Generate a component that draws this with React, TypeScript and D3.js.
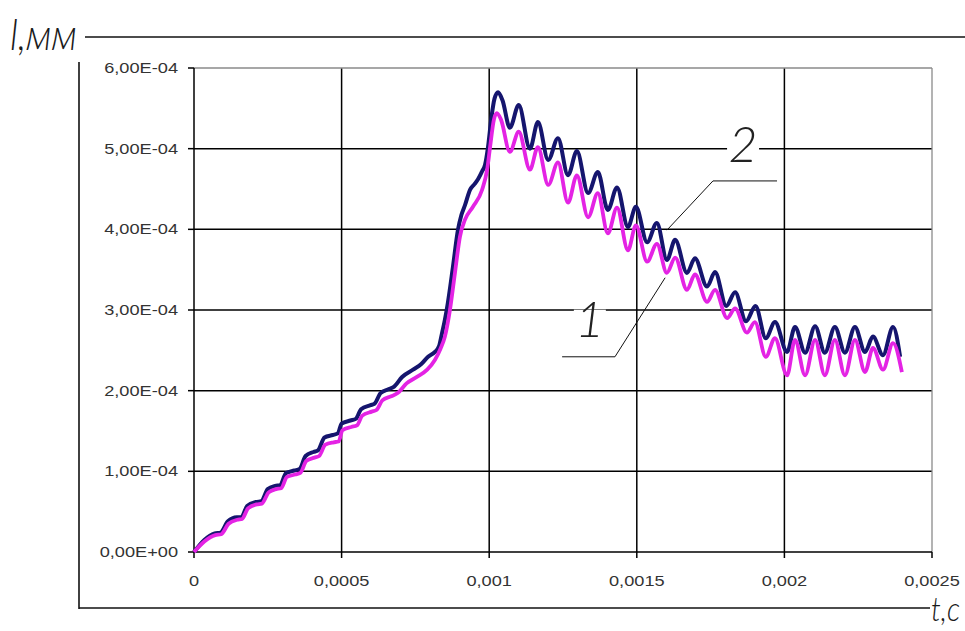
import React from 'react';
import * as d3 from 'd3';

// time in ms, length in 1e-4 mm
const curve2: [number, number][] = [
  [0, 0], [0.035, 0.15], [0.07, 0.23], [0.09, 0.24], [0.115, 0.38], [0.145, 0.43], [0.16, 0.43],
  [0.18, 0.57], [0.21, 0.62], [0.228, 0.63], [0.25, 0.78], [0.275, 0.82], [0.292, 0.83],
  [0.312, 0.98], [0.34, 1.01], [0.358, 1.03], [0.378, 1.19], [0.405, 1.24], [0.42, 1.26],
  [0.442, 1.42], [0.47, 1.45], [0.487, 1.47], [0.5, 1.59], [0.53, 1.63], [0.548, 1.65],
  [0.566, 1.77], [0.598, 1.82], [0.612, 1.84], [0.632, 1.97], [0.66, 2.02], [0.678, 2.05],
  [0.705, 2.17], [0.742, 2.26], [0.77, 2.33], [0.793, 2.42], [0.816, 2.48], [0.83, 2.55],
  [0.84, 2.71], [0.85, 2.88], [0.86, 3.09], [0.877, 3.53], [0.894, 3.99], [0.906, 4.18],
  [0.918, 4.3], [0.935, 4.49], [0.95, 4.56], [0.962, 4.62], [0.976, 4.72], [0.986, 4.8],
  [0.996, 5.02], [1.008, 5.4], [1.018, 5.62], [1.03, 5.7], [1.045, 5.6], [1.07, 5.26],
  [1.1, 5.54], [1.138, 5.0], [1.165, 5.33], [1.2, 4.86], [1.233, 5.13], [1.267, 4.67],
  [1.297, 4.97], [1.335, 4.45], [1.368, 4.71], [1.402, 4.24], [1.433, 4.52], [1.47, 4.03],
  [1.497, 4.28], [1.535, 3.84], [1.568, 4.08], [1.602, 3.62], [1.63, 3.87], [1.67, 3.46],
  [1.697, 3.64], [1.738, 3.29], [1.765, 3.47], [1.803, 3.05], [1.833, 3.22], [1.87, 2.86],
  [1.902, 3.05], [1.937, 2.65], [1.968, 2.85], [2.009, 2.48], [2.036, 2.79], [2.07, 2.47],
  [2.104, 2.8], [2.137, 2.47], [2.171, 2.79], [2.205, 2.47], [2.239, 2.79], [2.273, 2.48],
  [2.3, 2.67], [2.334, 2.44], [2.368, 2.79], [2.392, 2.42],
];

const curve1: [number, number][] = [
  [0, 0], [0.035, 0.13], [0.072, 0.21], [0.092, 0.22], [0.117, 0.35], [0.147, 0.4], [0.163, 0.41],
  [0.183, 0.54], [0.212, 0.59], [0.23, 0.6], [0.253, 0.74], [0.278, 0.78], [0.295, 0.79],
  [0.315, 0.93], [0.343, 0.96], [0.36, 0.98], [0.381, 1.13], [0.408, 1.17], [0.424, 1.19],
  [0.445, 1.33], [0.473, 1.36], [0.49, 1.37], [0.503, 1.51], [0.533, 1.55], [0.552, 1.57],
  [0.57, 1.69], [0.602, 1.74], [0.618, 1.76], [0.638, 1.88], [0.668, 1.93], [0.69, 1.97],
  [0.72, 2.09], [0.755, 2.17], [0.79, 2.26], [0.816, 2.38], [0.835, 2.52], [0.85, 2.67],
  [0.867, 3.0], [0.884, 3.46], [0.901, 3.91], [0.918, 4.12], [0.945, 4.28], [0.976, 4.49],
  [0.993, 4.74], [1.003, 5.02], [1.016, 5.36], [1.026, 5.44], [1.04, 5.36], [1.07, 4.96],
  [1.1, 5.21], [1.138, 4.74], [1.165, 5.02], [1.2, 4.55], [1.233, 4.83], [1.267, 4.33],
  [1.297, 4.67], [1.335, 4.15], [1.368, 4.45], [1.402, 3.95], [1.433, 4.27], [1.47, 3.74],
  [1.497, 4.05], [1.535, 3.6], [1.568, 3.82], [1.602, 3.46], [1.63, 3.65], [1.67, 3.25],
  [1.697, 3.44], [1.738, 3.1], [1.765, 3.25], [1.806, 2.9], [1.833, 3.02], [1.873, 2.72],
  [1.9, 2.85], [1.937, 2.42], [1.968, 2.65], [2.009, 2.19], [2.036, 2.63], [2.07, 2.19],
  [2.104, 2.63], [2.137, 2.19], [2.171, 2.63], [2.205, 2.19], [2.239, 2.63], [2.273, 2.23],
  [2.3, 2.53], [2.334, 2.26], [2.368, 2.59], [2.398, 2.23],
];

const xTicks = [0, 0.0005, 0.001, 0.0015, 0.002, 0.0025];
const xTickLabels = ['0', '0,0005', '0,001', '0,0015', '0,002', '0,0025'];
const yTicks = [0, 1e-4, 2e-4, 3e-4, 4e-4, 5e-4, 6e-4];
const yTickLabels = ['0,00E+00', '1,00E-04', '2,00E-04', '3,00E-04', '4,00E-04', '5,00E-04', '6,00E-04'];

// leader lines for the curve numbers, in ms / 1e-4 mm
const leader1: [number, number][] = [[1.247, 2.42], [1.426, 2.42], [1.596, 3.4]];
const leader2: [number, number][] = [[1.975, 4.6], [1.758, 4.6], [1.602, 3.99]];
const labelPos = [
  { text: '1', t: 1.341, v: 2.88 },
  { text: '2', t: 1.86, v: 5.05 },
];

const W = 965;
const H = 631;

const x = d3.scaleLinear().domain([0, 0.0025]).range([194, 932]);
const y = d3.scaleLinear().domain([0, 0.0006]).range([552, 68]);

const line = d3.line<[number, number]>()
  .x(d => x(d[0] * 1e-3))
  .y(d => y(d[1] * 1e-4))
  .curve(d3.curveMonotoneX);

const leaderLine = d3.line<[number, number]>()
  .x(d => x(d[0] * 1e-3))
  .y(d => y(d[1] * 1e-4));

const tickFont = '"Liberation Sans", Arial, sans-serif';
const handFont = 'Lato, "DejaVu Sans", sans-serif';

export default function App() {
  const [x0, x1] = x.range();
  const [y0, y1] = y.range();
  return (
    <svg width={W} height={H} style={{ position: 'absolute', left: 0, top: 0, background: '#fff' }}>
      <rect width={W} height={H} fill="#fff" />

      {/* hand-drawn frame */}
      <line x1={85} y1={37} x2={W} y2={37} stroke="#111" strokeWidth={1.6} />
      <line x1={79} y1={62} x2={79} y2={609} stroke="#111" strokeWidth={1.6} />
      <line x1={79} y1={608} x2={930} y2={608} stroke="#111" strokeWidth={1.6} />
      <text x={10} y={50} fontFamily={handFont} fontStyle="italic" fontWeight={300} fontSize={44}
        textLength={67} lengthAdjust="spacingAndGlyphs" fill="#1a1a1a">l,мм</text>
      <text x={931} y={621} fontFamily={handFont} fontStyle="italic" fontWeight={300} fontSize={34}
        textLength={29} lengthAdjust="spacingAndGlyphs" fill="#1a1a1a">t,с</text>

      {/* grid */}
      {yTicks.slice(1, -1).map(v => (
        <line key={'gy' + v} x1={x0} x2={x1} y1={y(v)} y2={y(v)} stroke="#000" strokeWidth={1.5} />
      ))}
      {xTicks.slice(1, -1).map(t => (
        <line key={'gx' + t} x1={x(t)} x2={x(t)} y1={y0} y2={y1} stroke="#000" strokeWidth={1.5} />
      ))}
      <line x1={x0} x2={x1} y1={y1} y2={y1} stroke="#8a8a8a" strokeWidth={1.3} />
      <line x1={x1} x2={x1} y1={y1} y2={y0} stroke="#8a8a8a" strokeWidth={1.3} />

      {/* axes */}
      <line x1={x0} x2={x0} y1={y1} y2={y0} stroke="#000" strokeWidth={1.5} />
      <line x1={x0} x2={x1} y1={y0} y2={y0} stroke="#000" strokeWidth={1.5} />
      {yTicks.map(v => (
        <line key={'ty' + v} x1={x0 - 6} x2={x0} y1={y(v)} y2={y(v)} stroke="#000" strokeWidth={1.5} />
      ))}
      {xTicks.map(t => (
        <line key={'tx' + t} x1={x(t)} x2={x(t)} y1={y0} y2={y0 + 6} stroke="#000" strokeWidth={1.5} />
      ))}
      {yTicks.map((v, i) => (
        <g key={'ly' + v} transform={`translate(178,${y(v)}) scale(1.3,1)`}>
          <text textAnchor="end" dy="0.36em" fontFamily={tickFont} fontSize={14} fill="#333">{yTickLabels[i]}</text>
        </g>
      ))}
      {xTicks.map((t, i) => (
        <g key={'lx' + t} transform={`translate(${x(t)},586) scale(1.3,1)`}>
          <text textAnchor="middle" fontFamily={tickFont} fontSize={14} fill="#333">{xTickLabels[i]}</text>
        </g>
      ))}

      {/* curves: 2 underneath, 1 on top */}
      <path d={line(curve2) || ''} fill="none" stroke="#15156e" strokeWidth={4} strokeLinejoin="round" />
      <path d={line(curve1) || ''} fill="none" stroke="#e423e4" strokeWidth={3.8} strokeLinejoin="round" />

      {/* curve numbers */}
      <path d={leaderLine(leader1) || ''} fill="none" stroke="#111" strokeWidth={1} />
      <path d={leaderLine(leader2) || ''} fill="none" stroke="#111" strokeWidth={1} />
      {labelPos.map(l => (
        <g key={l.text}>
          <rect x={x(l.t * 1e-3) - 16} y={y(l.v * 1e-4) - 10} width={32} height={20} fill="#fff" />
          <text x={x(l.t * 1e-3)} y={y(l.v * 1e-4) + 17} textAnchor="middle" fontFamily={handFont}
            fontStyle="italic" fontWeight={300} fontSize={50} fill="#222">{l.text}</text>
        </g>
      ))}
    </svg>
  );
}
